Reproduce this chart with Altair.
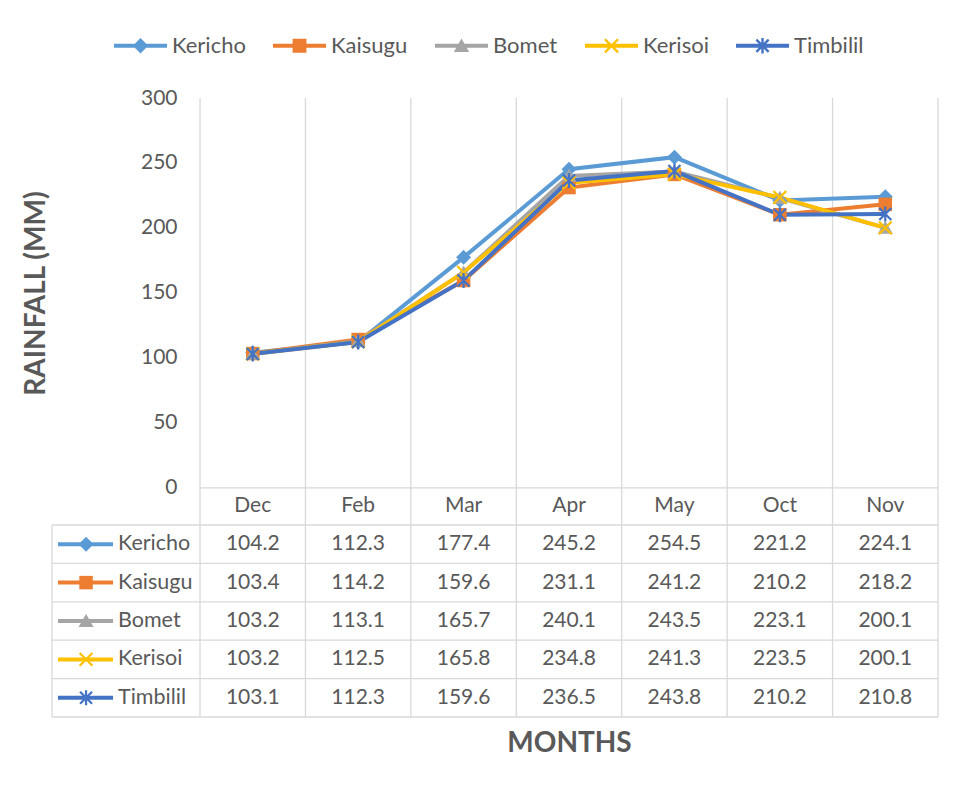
import math
import altair as alt
import pandas as pd

# ---------------- data ----------------
months = ["Dec", "Feb", "Mar", "Apr", "May", "Oct", "Nov"]
series = ["Kericho", "Kaisugu", "Bomet", "Kerisoi", "Timbilil"]
kericho = [104.2, 112.3, 177.4, 245.2, 254.5, 221.2, 224.1]
kaisugu = [103.4, 114.2, 159.6, 231.1, 241.2, 210.2, 218.2]
bomet = [103.2, 113.1, 165.7, 240.1, 243.5, 223.1, 200.1]
kerisoi = [103.2, 112.5, 165.8, 234.8, 241.3, 223.5, 200.1]
timbilil = [103.1, 112.3, 159.6, 236.5, 243.8, 210.2, 210.8]
y_ticks = [0, 50, 100, 150, 200, 250, 300]

colors = ["#5B9BD5", "#ED7D31", "#A5A5A5", "#FFC000", "#4472C4"]
marker_kinds = ["diamond", "square", "triangle", "x", "star"]

TEXT = "#595959"
GRID = "#D9D9D9"
FONT = "Lato"

# ---------------- layout (data units) ----------------
LABEL_W = 1.404          # width of the label column, in month-column units
HDR = 28.5               # header row height (y units)
ROW = 29.54              # table row height (y units)
Y_MIN = -(HDR + ROW * len(series))
Y_MAX = 300

# ---------------- marker shapes (SVG paths) ----------------
def _area(pts):
    a = 0.0
    for i in range(len(pts)):
        x1, y1 = pts[i]
        x2, y2 = pts[(i + 1) % len(pts)]
        a += x1 * y2 - x2 * y1
    return a


def _poly(pts):
    if _area(pts) > 0:
        pts = pts[::-1]
    return "M" + "L".join(f"{x:.4f},{y:.4f}" for x, y in pts) + "Z"


def _bar(x1, y1, x2, y2, w):
    dx, dy = x2 - x1, y2 - y1
    L = math.hypot(dx, dy)
    nx, ny = -dy / L * w, dx / L * w
    return [(x1 + nx, y1 + ny), (x2 + nx, y2 + ny), (x2 - nx, y2 - ny), (x1 - nx, y1 - ny)]


def marker_path(kind, r, w):
    if kind == "diamond":
        polys = [[(0, -r), (r, 0), (0, r), (-r, 0)]]
    elif kind == "square":
        k = 0.9 * r
        polys = [[(-k, -k), (k, -k), (k, k), (-k, k)]]
    elif kind == "triangle":
        polys = [[(0, -0.95 * r), (r, 0.8 * r), (-r, 0.8 * r)]]
    elif kind == "x":
        a = 0.85 * r
        polys = [_bar(-a, -a, a, a, w), _bar(-a, a, a, -a, w)]
    else:  # star / asterisk
        a = 0.8 * r
        polys = [_bar(-a, -a, a, a, w), _bar(-a, a, a, -a, w), _bar(0, -r, 0, r, w)]
    return "".join(_poly(p) for p in polys)


plot_marks = [marker_path(k, 1.0, 0.15) for k in marker_kinds]
legend_marks = [_poly(_bar(-1, 0, 1, 0, 0.075)) + marker_path(k, 0.29, 0.045) for k in marker_kinds]

# ---------------- tables ----------------
vals = [kericho, kaisugu, bomet, kerisoi, timbilil]
rows = []
for si, (name, vv) in enumerate(zip(series, vals)):
    for mi, (m, v) in enumerate(zip(months, vv)):
        rows.append({"series": name, "si": si, "month": m, "mi": mi, "value": v})
df = pd.DataFrame(rows)
df_series = pd.DataFrame({"series": series, "si": list(range(len(series)))})
df_months = pd.DataFrame({"month": months, "mi": list(range(len(months)))})

vlines = [{"gx": float(i), "top": float(Y_MAX), "bottom": Y_MIN} for i in range(len(months) + 1)]
vlines.append({"gx": -LABEL_W, "top": -HDR, "bottom": Y_MIN})
df_vlines = pd.DataFrame(vlines)

hlines = [{"hy": 0.0, "x1": 0.0, "x2": float(len(months))}]
for k in range(len(series) + 1):
    hlines.append({"hy": -HDR - ROW * k, "x1": -LABEL_W, "x2": float(len(months))})
df_hlines = pd.DataFrame(hlines)

# ---------------- scales & axes ----------------
xscale = alt.Scale(domain=[-LABEL_W, len(months)], nice=False, zero=False)
yscale = alt.Scale(domain=[Y_MIN, Y_MAX], nice=False, zero=False)
cscale = alt.Scale(domain=[*series], range=colors)

row_y_expr = f"-{HDR} - {ROW} * (datum.si + 0.5)"

x_axis = alt.Axis(
    labels=False, ticks=False, domain=False, grid=False,
    title="MONTHS", titleFontSize=28, titleFontWeight="bold", titleColor=TEXT,
    titleFont=FONT, titleX=517, titlePadding=12,
)
y_axis = alt.Axis(
    values=y_ticks, offset=-148, domain=False, ticks=False, grid=False,
    labelPadding=23, labelFontSize=21, labelColor=TEXT, labelFont=FONT,
    title="RAINFALL (MM)", titleFontSize=28, titleFontWeight="bold", titleColor=TEXT,
    titleFont=FONT, titleX=-164, titleY=195, titleBaseline="middle", titleAlign="center",
)

color_nolegend = alt.Color("series:N", scale=cscale, legend=None)


def XQ(field):
    return alt.X(field, type="quantitative", scale=xscale, axis=x_axis)


def YQ(field):
    return alt.Y(field, type="quantitative", scale=yscale, axis=y_axis)


def XD(v):
    return alt.XDatum(v, type="quantitative", scale=xscale, axis=x_axis)


def YD(v):
    return alt.YDatum(v, type="quantitative", scale=yscale, axis=y_axis)


# ---------------- layers ----------------
grid_v = alt.Chart(df_vlines).mark_rule(color=GRID, strokeWidth=1.3).encode(
    x=XQ("gx"),
    y=YQ("top"),
    y2="bottom:Q",
)

grid_h = alt.Chart(df_hlines).mark_rule(color=GRID, strokeWidth=1.3).encode(
    x=XQ("x1"),
    x2="x2:Q",
    y=YQ("hy"),
)

lines = alt.Chart(df).mark_line(strokeWidth=4).transform_calculate(
    xc="datum.mi + 0.5"
).encode(
    x=XQ("xc"),
    y=YQ("value"),
    color=color_nolegend,
    order="mi:Q",
)

points = alt.Chart(df).mark_point(filled=True, opacity=1, size=225, strokeWidth=0).transform_calculate(
    xc="datum.mi + 0.5"
).encode(
    x=XQ("xc"),
    y=YQ("value"),
    color=color_nolegend,
    shape=alt.Shape("series:N", scale=alt.Scale(domain=[*series], range=plot_marks), legend=None),
)

header = alt.Chart(df_months).mark_text(fontSize=21, color=TEXT, font=FONT, baseline="middle").transform_calculate(
    xc="datum.mi + 0.5"
).encode(
    x=XQ("xc"),
    y=YD(-HDR / 2),
    text="month:N",
)

cells = alt.Chart(df).mark_text(fontSize=21, color=TEXT, font=FONT, baseline="middle").transform_calculate(
    xc="datum.mi + 0.5", row_y=row_y_expr
).encode(
    x=XQ("xc"),
    y=YQ("row_y"),
    text=alt.Text("value:Q", format=".1f"),
)

key_line = alt.Chart(df_series).mark_rule(strokeWidth=4).transform_calculate(
    row_y=row_y_expr
).encode(
    x=XD(-1.347),
    x2=alt.X2Datum(-0.825),
    y=YQ("row_y"),
    color=color_nolegend,
)

key_mark = alt.Chart(df_series).mark_point(filled=True, opacity=1, size=225, strokeWidth=0).transform_calculate(
    row_y=row_y_expr
).encode(
    x=XD(-1.081),
    y=YQ("row_y"),
    color=color_nolegend,
    shape=alt.Shape("series:N", scale=alt.Scale(domain=[*series], range=plot_marks), legend=None),
)

key_text = alt.Chart(df_series).mark_text(
    fontSize=21.5, color=TEXT, font=FONT, align="left", baseline="middle"
).transform_calculate(row_y=row_y_expr).encode(
    x=XD(-0.778),
    y=YQ("row_y"),
    text="series:N",
)

legend_props = dict(
    title=None, orient="none", legendX=62, legendY=-79, direction="horizontal",
    symbolSize=2809, symbolStrokeWidth=0, labelOffset=5, columnPadding=27,
    labelFontSize=22, labelColor=TEXT, labelFont=FONT,
)

legend_layer = alt.Chart(df_series).mark_point(filled=True, opacity=1).transform_filter("false").encode(
    x=XD(0),
    y=YD(0),
    color=alt.Color("series:N", scale=cscale, legend=alt.Legend(**legend_props)),
    shape=alt.Shape("series:N", scale=alt.Scale(domain=[*series], range=legend_marks),
                    legend=alt.Legend(**legend_props)),
)

chart = alt.layer(
    grid_v, grid_h, lines, points, header, cells, key_line, key_mark, key_text, legend_layer
).resolve_scale(
    color="independent", shape="independent"
).properties(
    width=886, height=619,
    padding={"left": 44, "top": 90, "right": 10, "bottom": 50},
    autosize=alt.AutoSizeParams(type="none"),
).configure(font=FONT).configure_view(stroke=None)

chart.save("out.html", embed_options={"renderer": "svg", "actions": False})
